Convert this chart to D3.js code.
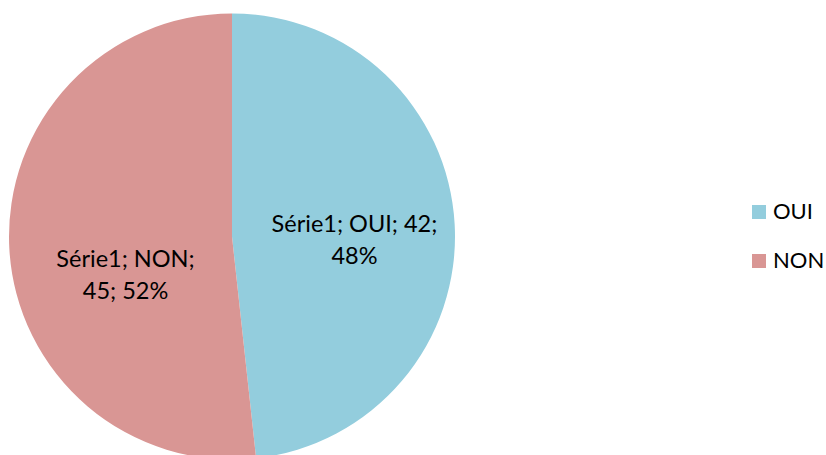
<!DOCTYPE html>
<html>
<head>
<meta charset="utf-8">
<script src="https://cdn.jsdelivr.net/npm/d3@7"></script>
<style>
  html, body { margin: 0; padding: 0; background: #fff; }
  svg text { font-family: Lato, "Open Sans", sans-serif; fill: #000; }
</style>
</head>
<body>
<svg id="chart" width="826" height="455"></svg>
<script>
const series_name = "Série1";
const categories = ["OUI", "NON"];
const values = [42, 45];
const colors = ["#93cddd", "#d99694"];

const svg = d3.select('#chart');
const W = 826, H = 455;

const cx = 232, cy = 236.5, R = 223;

const total = d3.sum(values);
const data = categories.map((c, i) => ({ cat: c, value: values[i], color: colors[i] }));

const pie = d3.pie()
  .sort(null)
  .value(d => d.value);

const arc = d3.arc().innerRadius(0).outerRadius(R);
const label_arc = d3.arc().innerRadius(R * 0.55).outerRadius(R * 0.55);

const g = svg.append('g').attr('transform', `translate(${cx},${cy})`);

const arcs = pie(data);

g.selectAll('path.slice')
  .data(arcs).enter()
  .append('path')
  .attr('class', 'slice')
  .attr('d', arc)
  .attr('fill', d => d.data.color);

// excel "best fit" puts the labels a bit off the centroid
const nudge = { OUI: [0, 10], NON: [16, 32] };
const line_h = 32;

const labels = g.selectAll('text.lbl')
  .data(arcs).enter()
  .append('text')
  .attr('class', 'lbl')
  .attr('text-anchor', 'middle')
  .attr('font-size', 23.5)
  .attr('transform', d => {
    const c = label_arc.centroid(d);
    const n = nudge[d.data.cat];
    return `translate(${c[0] + n[0]},${c[1] + n[1]})`;
  });

labels.each(function(d) {
  const pct = Math.round(d.data.value / total * 100) + '%';
  const lines = d.data.cat === 'OUI'
    ? [`${series_name}; ${d.data.cat}; ${d.data.value};`, pct]
    : [`${series_name}; ${d.data.cat};`, `${d.data.value}; ${pct}`];
  d3.select(this).selectAll('tspan')
    .data(lines).enter()
    .append('tspan')
    .attr('x', 0)
    .attr('y', (l, i) => (i - 0.5) * line_h + 8)
    .text(l => l);
});

// legend
const legend = svg.append('g').attr('transform', 'translate(752,205)');

const item = legend.selectAll('g.item')
  .data(data).enter()
  .append('g')
  .attr('class', 'item')
  .attr('transform', (d, i) => `translate(0,${i * 49})`);

item.append('rect')
  .attr('width', 14)
  .attr('height', 14)
  .attr('fill', d => d.color);

item.append('text')
  .attr('x', 21)
  .attr('y', 14)
  .attr('font-size', 22)
  .text(d => d.cat);
</script>
</body>
</html>
